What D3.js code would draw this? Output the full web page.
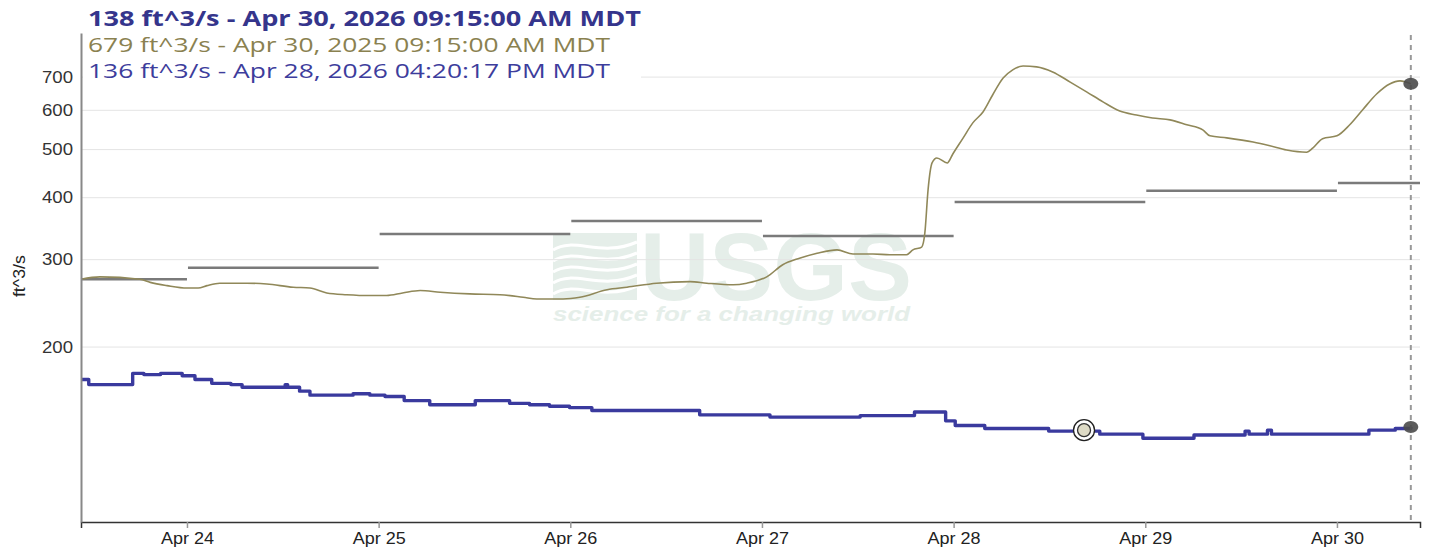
<!DOCTYPE html>
<html>
<head>
<meta charset="utf-8">
<script src="https://cdn.jsdelivr.net/npm/d3@7"></script>
<style>
  body { margin: 0; background: #fff; }
  svg { display: block; }
</style>
</head>
<body>
<div id="chart"></div>
<script>
// hours since Apr 23 00:00 (local), discharge in ft^3/s
const priorYearHours = [10.73, 13.1, 18.1, 19.4, 21.5, 24.0, 25.4, 26.5, 28.1, 31.5, 34.0, 37.3, 39.4, 41.5,
  44.0, 46.9, 49.0, 51.0, 53.2, 55.7, 59.4, 63.2, 66.1, 67.8, 71.1, 73.2, 76.6, 79.1, 82.8, 87.0, 89.1,
  92.4, 94.1, 96.6, 98.6, 100.7, 102.9, 105.4, 107.4, 109.9, 112.0, 114.1, 114.9, 116.0, 116.4, 116.8,
  117.3, 117.9, 119.2, 119.9, 121.2, 122.4, 123.7, 124.9, 126.2, 127.4, 128.7, 130.4, 132.4, 134.6,
  136.7, 138.7, 140.8, 142.9, 144.9, 147.1, 149.2, 151.2, 152.1, 154.2, 157.5, 159.6, 161.7, 164.2,
  165.0, 166.2, 168.0, 169.6, 171.2, 173.0, 174.6, 175.9, 177.25];
const priorYearFlow = [274, 277, 274, 270, 266, 263, 263, 266, 269, 269, 268, 264, 263, 257,
  255, 254, 254, 257, 260, 258, 256, 255, 252, 250, 250, 252, 261, 264, 269, 271, 269,
  267, 269, 277, 293, 302, 309, 314, 308, 308, 307, 307, 314, 318, 340, 415,
  470, 481, 470, 490, 528, 566, 596, 645, 697, 724, 737, 734, 717, 684,
  653, 624, 598, 587, 579, 574, 561, 548, 533, 528, 518, 509, 499, 494,
  504, 526, 533, 561, 601, 648, 678, 688, 679];

const currentHours = [10.73, 11.7, 17.2, 18.6, 20.7, 23.4, 25.0, 27.1, 29.5, 30.9, 36.3, 36.6, 38.1, 39.4,
  44.8, 46.9, 48.8, 51.2, 54.4, 60.1, 61.9, 64.4, 66.9, 69.4, 71.9, 74.7, 82.0, 88.2, 97.0, 108.3,
  115.1, 119.0, 120.2, 123.9, 131.9, 135.8, 136.8, 138.3, 143.7, 150.1, 156.5, 157.0, 157.6, 159.3,
  159.8, 161.8, 171.5, 172.0, 175.3, 177.25];
const currentFlow = [172, 168, 177, 176, 177, 175, 172, 169, 168, 166, 168, 166, 163, 160,
  161, 160, 159, 156, 153, 156, 156, 154, 153, 152, 151, 149, 149, 146, 144.5, 145.5,
  148, 142, 139, 137, 135.4, 136, 135.4, 133.5, 131, 133, 135.4, 133.5, 133.5, 136,
  133.5, 133.5, 133.5, 136, 137, 138];

// daily means, one per calendar day starting Apr 23
const dailyMeanFlow = [274, 289, 338, 359, 335, 392, 413, 428];
const yTickValues = [200, 300, 400, 500, 600, 700];

const nowHour = 177.25;
const hoverHour = 136.33;
const hoverFlow = 136;

const headerText = '138 ft^3/s - Apr 30, 2026 09:15:00 AM MDT';
const legendTexts = ['679 ft^3/s - Apr 30, 2025 09:15:00 AM MDT', '136 ft^3/s - Apr 28, 2026 04:20:17 PM MDT'];

const width = 1441, height = 555;
const margin = {top: 33, right: 21, bottom: 33, left: 81};
const axisFont = 'Liberation Sans, Arial, sans-serif';

const baseTime = Date.UTC(2026, 3, 23);
const toDate = (h) => new Date(baseTime + h * 3600e3);

const x = d3.scaleUtc()
  .domain([toDate(10.73), toDate(178.4)])
  .range([margin.left, width - margin.right]);
const y = d3.scaleLog()
  .domain([88.8, 859])
  .range([height - margin.bottom, margin.top]);

const svg = d3.select('#chart')
  .append('svg')
  .attr('width', width)
  .attr('height', height);

const bgGroup = svg.append('g');
const gridGroup = svg.append('g');
const lineGroup = svg.append('g');
const axisGroup = svg.append('g');
const markGroup = svg.append('g');
const textGroup = svg.append('g');

// USGS watermark
const wmColor = '#e5eee9';
bgGroup.append('rect')
  .attr('x', 553).attr('y', 233).attr('width', 84).attr('height', 67)
  .attr('fill', wmColor);
[0, 1, 2, 3, 4].forEach((i) => {
  const yy = 244 + i * 11;
  bgGroup.append('path')
    .attr('d', `M553,${yy + 6} C575,${yy - 8} 600,${yy + 14} 637,${yy - 2}`)
    .attr('fill', 'none')
    .attr('stroke', '#fff')
    .attr('stroke-width', 3);
});
bgGroup.append('text')
  .attr('x', 640).attr('y', 300)
  .attr('font-family', axisFont)
  .attr('font-weight', 'bold')
  .attr('font-size', 96)
  .attr('textLength', 272)
  .attr('lengthAdjust', 'spacingAndGlyphs')
  .attr('fill', wmColor)
  .text('USGS');
bgGroup.append('text')
  .attr('x', 553).attr('y', 321)
  .attr('font-family', axisFont)
  .attr('font-weight', 'bold')
  .attr('font-style', 'italic')
  .attr('font-size', 21)
  .attr('textLength', 357)
  .attr('lengthAdjust', 'spacingAndGlyphs')
  .attr('fill', wmColor)
  .text('science for a changing world');

// horizontal grid
gridGroup.selectAll('.grid')
  .data(yTickValues)
  .enter().append('line')
  .attr('class', 'grid')
  .attr('x1', margin.left)
  .attr('x2', width - margin.right)
  .attr('y1', (d) => y(d))
  .attr('y2', (d) => y(d))
  .attr('stroke', '#e4e4e4')
  .attr('stroke-width', 1);

// daily mean steps
const [x0, x1] = x.domain();
lineGroup.selectAll('.daily')
  .data(dailyMeanFlow)
  .enter().append('line')
  .attr('class', 'daily')
  .attr('x1', (d, i) => x(new Date(Math.max(+toDate(i * 24), +x0))) + (i > 0 ? 1 : 0))
  .attr('x2', (d, i) => x(new Date(Math.min(+toDate((i + 1) * 24), +x1))))
  .attr('y1', (d) => y(d))
  .attr('y2', (d) => y(d))
  .attr('stroke', '#7a7a7a')
  .attr('stroke-width', 2.5);

const priorLine = d3.line()
  .x((d) => x(toDate(d[0])))
  .y((d) => y(d[1]))
  .curve(d3.curveMonotoneX);

lineGroup.append('path')
  .datum(d3.zip(priorYearHours, priorYearFlow))
  .attr('d', priorLine)
  .attr('fill', 'none')
  .attr('stroke', '#908859')
  .attr('stroke-width', 1.6);

const currentLine = d3.line()
  .x((d) => x(toDate(d[0])))
  .y((d) => y(d[1]))
  .curve(d3.curveStepAfter);

lineGroup.append('path')
  .datum(d3.zip(currentHours, currentFlow))
  .attr('d', currentLine)
  .attr('fill', 'none')
  .attr('stroke', '#3a3a9e')
  .attr('stroke-width', 3.4)
  .attr('stroke-linejoin', 'round');

// axes
const xAxis = d3.axisBottom(x)
  .ticks(d3.utcDay.every(1))
  .tickFormat(d3.utcFormat('%b %d'))
  .tickSize(6)
  .tickPadding(5);

const xg = axisGroup.append('g')
  .attr('transform', `translate(0,${height - margin.bottom})`)
  .call(xAxis);
xg.select('.domain').attr('stroke', '#333').attr('stroke-width', 1.5);
xg.selectAll('.tick line').attr('stroke', '#999').attr('stroke-width', 1.5);
xg.selectAll('.tick text')
  .attr('font-family', axisFont)
  .attr('font-size', 16)
  .attr('textLength', 53)
  .attr('lengthAdjust', 'spacingAndGlyphs')
  .attr('fill', '#222');

const yAxis = d3.axisLeft(y)
  .tickValues(yTickValues)
  .tickFormat(d3.format('d'))
  .tickSize(0)
  .tickPadding(8);

const yg = axisGroup.append('g')
  .attr('transform', `translate(${margin.left},0)`)
  .call(yAxis);
yg.select('.domain').attr('stroke', '#888').attr('stroke-width', 2);
yg.selectAll('.tick text')
  .attr('font-family', axisFont)
  .attr('font-size', 16)
  .attr('textLength', 31)
  .attr('lengthAdjust', 'spacingAndGlyphs')
  .attr('fill', '#333');

axisGroup.append('text')
  .attr('transform', `translate(25,${y(278)}) rotate(-90)`)
  .attr('text-anchor', 'middle')
  .attr('font-family', axisFont)
  .attr('font-size', 16)
  .attr('textLength', 42)
  .attr('lengthAdjust', 'spacingAndGlyphs')
  .attr('fill', '#222')
  .text('ft^3/s');

// current time marker
markGroup.append('line')
  .attr('x1', x(toDate(nowHour)))
  .attr('x2', x(toDate(nowHour)))
  .attr('y1', margin.top + 2)
  .attr('y2', height - margin.bottom)
  .attr('stroke', '#999')
  .attr('stroke-width', 2)
  .attr('stroke-dasharray', '5,5');

markGroup.selectAll('.endpoint')
  .data([priorYearFlow[priorYearFlow.length - 1], currentFlow[currentFlow.length - 1]])
  .enter().append('ellipse')
  .attr('class', 'endpoint')
  .attr('cx', x(toDate(nowHour)))
  .attr('cy', (d) => y(d))
  .attr('rx', 7.5)
  .attr('ry', 6)
  .attr('fill', '#4a4a4a')
  .attr('opacity', 0.9);

const hx = x(toDate(hoverHour));
const hy = y(hoverFlow);
markGroup.append('circle')
  .attr('cx', hx).attr('cy', hy).attr('r', 10.5)
  .attr('fill', '#fff').attr('stroke', '#222').attr('stroke-width', 1.3);
markGroup.append('circle')
  .attr('cx', hx).attr('cy', hy).attr('r', 6.5)
  .attr('fill', '#dedbc6').attr('stroke', '#333').attr('stroke-width', 1.3);

// header + legend
textGroup.append('rect')
  .attr('x', margin.left + 2).attr('y', margin.top + 1)
  .attr('width', 558).attr('height', 52)
  .attr('fill', '#fff');

textGroup.append('text')
  .attr('x', 88).attr('y', 26)
  .attr('font-family', 'Open Sans, Noto Sans, sans-serif')
  .attr('font-weight', 'bold')
  .attr('font-size', 21)
  .attr('textLength', 553)
  .attr('lengthAdjust', 'spacingAndGlyphs')
  .attr('fill', '#35358c')
  .text(headerText);

textGroup.selectAll('.legend')
  .data(legendTexts)
  .enter().append('text')
  .attr('class', 'legend')
  .attr('x', 88)
  .attr('y', (d, i) => 52 + i * 26)
  .attr('font-family', 'Open Sans, Noto Sans, sans-serif')
  .attr('font-size', 20)
  .attr('textLength', 522)
  .attr('lengthAdjust', 'spacingAndGlyphs')
  .attr('fill', (d, i) => (i === 0 ? '#8a8150' : '#3d3d9c'))
  .text((d) => d);
</script>
</body>
</html>
